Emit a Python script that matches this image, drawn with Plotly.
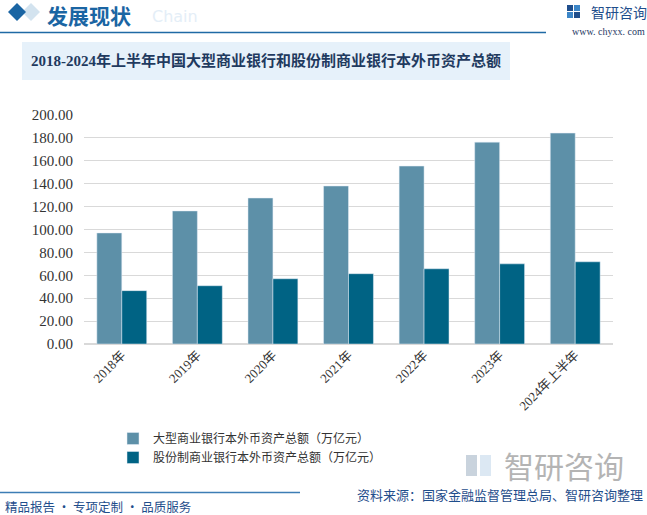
import plotly.graph_objects as go

categories = ["2018年", "2019年", "2020年", "2021年", "2022年", "2023年", "2024年上半年"]
large_banks = [97.0, 116.2, 127.5, 138.0, 155.4, 176.3, 184.2]
joint_stock = [46.6, 50.9, 57.0, 61.4, 65.7, 70.0, 71.8]
series_names = ["大型商业银行本外币资产总额（万亿元）", "股份制商业银行本外币资产总额（万亿元）"]
title_text = "2018-2024年上半年中国大型商业银行和股份制商业银行本外币资产总额"
source_text = "资料来源：国家金融监督管理总局、智研咨询整理"
footer_text = "精品报告 · 专项定制 · 品质服务"

W, H = 647, 515
L, R, T, B = 84, 34, 115, 171
PW, PH = W - L - R, H - T - B


def px(x):
    return (x - L) / PW


def py(y):
    return (H - B - y) / PH


fig = go.Figure()
fig.add_trace(go.Bar(x=categories, y=large_banks, name=series_names[0], marker_color="#5D90A8"))
fig.add_trace(go.Bar(x=categories, y=joint_stock, name=series_names[1], marker_color="#006384"))

shapes = []
annotations = []

# header
shapes.append(dict(type="path", xref="paper", yref="paper",
                   path=f"M {px(22)} {py(12)} L {px(31)} {py(3)} L {px(40)} {py(12)} L {px(31)} {py(21)} Z",
                   fillcolor="#D3E3EF", line_width=0, layer="below"))
shapes.append(dict(type="path", xref="paper", yref="paper",
                   path=f"M {px(8)} {py(12)} L {px(17)} {py(3)} L {px(26)} {py(12)} L {px(17)} {py(21)} Z",
                   fillcolor="#1A65A3", line_width=0))
shapes.append(dict(type="line", xref="paper", yref="paper", x0=px(0), x1=px(546), y0=py(32.5), y1=py(32.5),
                   line=dict(color="#1F6AA5", width=1.5)))
annotations.append(dict(text="Chain", x=px(150), y=py(16), xref="paper", yref="paper", xanchor="left",
                        yanchor="middle", showarrow=False,
                        font=dict(family="DejaVu Sans", size=16, color="#E4EEF7")))
annotations.append(dict(text="<b>发展现状</b>", x=px(45), y=py(15), xref="paper", yref="paper", xanchor="left",
                        yanchor="middle", showarrow=False,
                        font=dict(family="Noto Sans CJK SC", size=21, color="#1A65A3")))

# top-right logo
shapes.append(dict(type="rect", xref="paper", yref="paper", x0=px(567), x1=px(573), y0=py(11), y1=py(5),
                   fillcolor="#1F4E8C", line_width=0))
shapes.append(dict(type="rect", xref="paper", yref="paper", x0=px(574), x1=px(580), y0=py(11), y1=py(5),
                   fillcolor="#3C86C8", line_width=0))
shapes.append(dict(type="rect", xref="paper", yref="paper", x0=px(567), x1=px(573), y0=py(18), y1=py(12),
                   fillcolor="#3C86C8", line_width=0))
shapes.append(dict(type="rect", xref="paper", yref="paper", x0=px(574), x1=px(580), y0=py(18), y1=py(12),
                   fillcolor="#1F4E8C", line_width=0))
annotations.append(dict(text="智研咨询", x=px(589), y=py(12), xref="paper", yref="paper", xanchor="left",
                        yanchor="middle", showarrow=False,
                        font=dict(family="Noto Sans CJK SC", size=14, color="#1F4E8C")))
annotations.append(dict(text="www. chyxx. com", x=px(647), y=py(31), xref="paper", yref="paper", xanchor="right",
                        yanchor="middle", showarrow=False,
                        font=dict(family="Liberation Serif", size=10, color="#1F3864")))

# title box
shapes.append(dict(type="rect", xref="paper", yref="paper", x0=px(22), x1=px(510), y0=py(80), y1=py(42),
                   fillcolor="#E6F1FA", line_width=0, layer="below"))
annotations.append(dict(text="<b>" + title_text + "</b>", x=px(266), y=py(61), xref="paper", yref="paper",
                        xanchor="center", yanchor="middle", showarrow=False,
                        font=dict(family="Liberation Serif, Noto Sans CJK SC", size=15, color="#1F3A5F")))

# bottom watermark logo
shapes.append(dict(type="rect", xref="paper", yref="paper", x0=px(466), x1=px(477), y0=py(476), y1=py(455),
                   fillcolor="#C9D3DD", line_width=0, layer="below"))
shapes.append(dict(type="rect", xref="paper", yref="paper", x0=px(480), x1=px(491), y0=py(476), y1=py(455),
                   fillcolor="#DCE8F3", line_width=0, layer="below"))
annotations.append(dict(text="智研咨询", x=px(502), y=py(465), xref="paper", yref="paper", xanchor="left",
                        yanchor="middle", showarrow=False,
                        font=dict(family="Noto Sans CJK SC", size=30, color="#B4B4B4")))

# footer
shapes.append(dict(type="line", xref="paper", yref="paper", x0=px(0), x1=px(300), y0=py(492.5), y1=py(492.5),
                   line=dict(color="#3C7DB5", width=1.5)))
annotations.append(dict(text=footer_text, x=px(3), y=py(506), xref="paper", yref="paper", xanchor="left",
                        yanchor="middle", showarrow=False,
                        font=dict(family="Noto Sans CJK SC", size=12.5, color="#1F4E8C")))
annotations.append(dict(text=source_text, x=px(645), y=py(495), xref="paper", yref="paper", xanchor="right",
                        yanchor="middle", showarrow=False,
                        font=dict(family="Noto Sans CJK SC", size=13, color="#1F4E8C")))

fig.update_layout(
    width=W, height=H,
    margin=dict(l=L, r=R, t=T, b=B, autoexpand=False),
    paper_bgcolor="white", plot_bgcolor="white",
    barmode="group", bargap=0.34, bargroupgap=0,
    showlegend=True,
    legend=dict(x=px(113), y=py(424), xanchor="left", yanchor="top", orientation="v",
                font=dict(family="Noto Sans CJK SC", size=12, color="#333333"),
                itemwidth=30, tracegroupgap=0, bgcolor="rgba(0,0,0,0)"),
    shapes=shapes, annotations=annotations,
    xaxis=dict(tickangle=-45, showgrid=False, showline=False, ticks="",
               tickfont=dict(family="Liberation Serif, Noto Sans CJK SC", size=13, color="#333333")),
    yaxis=dict(range=[0, 200], dtick=20, tickformat=".2f", showgrid=True, gridcolor="#D9D9D9", gridwidth=1,
               zeroline=True, zerolinecolor="#D9D9D9", showline=False, ticks="", ticklabelstandoff=10,
               tickfont=dict(family="Liberation Serif", size=15, color="#333333")),
)

fig.write_html("out.html")
